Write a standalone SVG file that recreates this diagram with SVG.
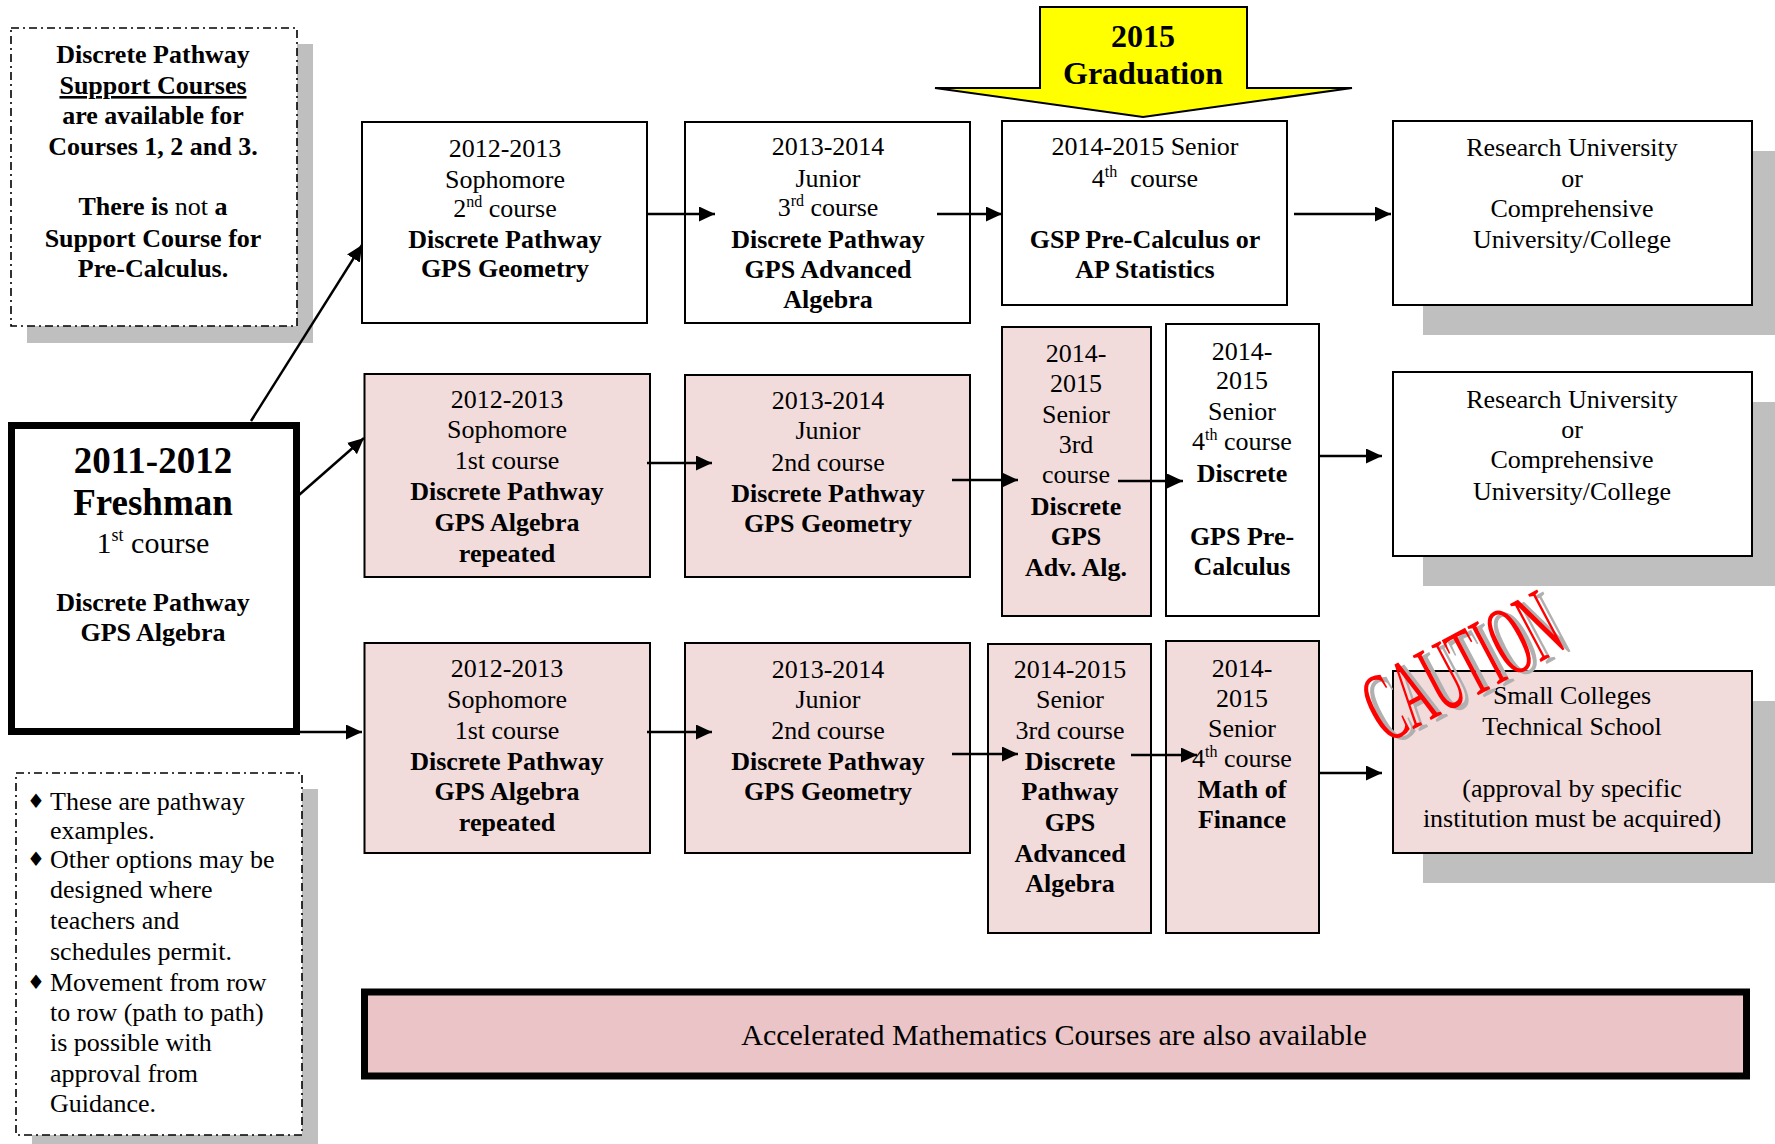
<svg xmlns="http://www.w3.org/2000/svg" width="1775" height="1144" viewBox="0 0 1775 1144">
<style>
.t{font-family:"Liberation Serif","Times New Roman",serif;font-size:26px;text-anchor:middle;fill:#000}
.l{text-anchor:start}
.b{font-weight:bold}
.box{fill:#fff;stroke:#000;stroke-width:2}
.pink{fill:#f2dcdb;stroke:#000;stroke-width:2}
.sh{fill:#bfbfbf}
.dd{fill:#fff;stroke:#000;stroke-width:1.6;stroke-dasharray:8 4 2 4}
.conn line{stroke:#000;stroke-width:2.5;marker-end:url(#ah)}
.sup{font-size:16px}
.big{font-size:37px}
.grad{font-size:32px}
.dia{font-family:"DejaVu Sans",sans-serif;font-size:20px}
.cau{font-family:"Liberation Serif","Times New Roman",serif;font-size:100px}
</style>
<defs>
<marker id="ah" markerUnits="userSpaceOnUse" markerWidth="16" markerHeight="15" refX="16" refY="7.5" orient="auto"><path d="M0,0 L16,7.5 L0,15 z" fill="#000"/></marker>
</defs>
<rect width="1775" height="1144" fill="#fff"/>

<g id="support-note">
<rect class="sh" x="27" y="44" width="286" height="299"/>
<rect class="dd" x="11" y="28" width="286" height="298"/>
<text class="t b" x="153" y="63">Discrete Pathway</text>
<text class="t b" x="153" y="94" text-decoration="underline">Support Courses</text>
<text class="t b" x="153" y="124">are available for</text>
<text class="t b" x="153" y="155">Courses 1, 2 and 3.</text>
<text class="t b" x="153" y="215">There is <tspan font-weight="normal">not</tspan> a</text>
<text class="t b" x="153" y="247">Support Course for</text>
<text class="t b" x="153" y="277">Pre-Calculus.</text>
</g>

<g id="graduation">
<polygon points="1040,7 1247,7 1247,88 1352,88 1143,117 935,88 1040,88" fill="#ffff00" stroke="#000" stroke-width="2"/>
<text class="t b grad" x="1143" y="47">2015</text>
<text class="t b grad" x="1143" y="84">Graduation</text>
</g>

<g id="freshman">
<rect x="11.5" y="425.5" width="285" height="306" fill="#fff" stroke="#000" stroke-width="7"/>
<text class="t b big" x="153" y="473">2011-2012</text>
<text class="t b big" x="153" y="515">Freshman</text>
<text class="t" x="153" y="553" style="font-size:30px">1<tspan dy="-12" style="font-size:18px">st</tspan><tspan dy="12"> course</tspan></text>
<text class="t b" x="153" y="611">Discrete Pathway</text>
<text class="t b" x="153" y="641">GPS Algebra</text>
</g>

<g id="r1-soph">
<rect class="box" x="362" y="122" width="285" height="201"/>
<text class="t" x="505" y="157">2012-2013</text>
<text class="t" x="505" y="188">Sophomore</text>
<text class="t" x="505" y="217">2<tspan class="sup" dy="-10">nd</tspan><tspan dy="10"> course</tspan></text>
<text class="t b" x="505" y="248">Discrete Pathway</text>
<text class="t b" x="505" y="277">GPS Geometry</text>
</g>

<g id="r1-junior">
<rect class="box" x="685" y="122" width="285" height="201"/>
<text class="t" x="828" y="155">2013-2014</text>
<text class="t" x="828" y="187">Junior</text>
<text class="t" x="828" y="216">3<tspan class="sup" dy="-10">rd</tspan><tspan dy="10"> course</tspan></text>
<text class="t b" x="828" y="248">Discrete Pathway</text>
<text class="t b" x="828" y="278">GPS Advanced</text>
<text class="t b" x="828" y="308">Algebra</text>
</g>

<g id="r1-senior">
<rect class="box" x="1002" y="121" width="285" height="184"/>
<text class="t" x="1145" y="155">2014-2015 Senior</text>
<text class="t" x="1145" y="187" style="white-space:pre">4<tspan class="sup" dy="-10">th</tspan><tspan dy="10">  course</tspan></text>
<text class="t b" x="1145" y="248">GSP Pre-Calculus or</text>
<text class="t b" x="1145" y="278">AP Statistics</text>
</g>

<g id="r1-univ">
<rect class="sh" x="1423" y="151" width="359" height="184"/>
<rect class="box" x="1393" y="121" width="359" height="184"/>
<text class="t" x="1572" y="156">Research University</text>
<text class="t" x="1572" y="187">or</text>
<text class="t" x="1572" y="217">Comprehensive</text>
<text class="t" x="1572" y="248">University/College</text>
</g>

<g id="r2-soph">
<rect class="pink" x="364.5" y="374" width="285.5" height="203"/>
<text class="t" x="507" y="408">2012-2013</text>
<text class="t" x="507" y="438">Sophomore</text>
<text class="t" x="507" y="469">1st course</text>
<text class="t b" x="507" y="500">Discrete Pathway</text>
<text class="t b" x="507" y="531">GPS Algebra</text>
<text class="t b" x="507" y="562">repeated</text>
</g>

<g id="r2-junior">
<rect class="pink" x="685" y="375" width="285" height="202"/>
<text class="t" x="828" y="409">2013-2014</text>
<text class="t" x="828" y="439">Junior</text>
<text class="t" x="828" y="471">2nd course</text>
<text class="t b" x="828" y="502">Discrete Pathway</text>
<text class="t b" x="828" y="532">GPS Geometry</text>
</g>

<g id="r2-senior3">
<rect class="pink" x="1002" y="327" width="149" height="289"/>
<text class="t" x="1076" y="362">2014-</text>
<text class="t" x="1076" y="392">2015</text>
<text class="t" x="1076" y="423">Senior</text>
<text class="t" x="1076" y="453">3rd</text>
<text class="t" x="1076" y="483">course</text>
<text class="t b" x="1076" y="515">Discrete</text>
<text class="t b" x="1076" y="545">GPS</text>
<text class="t b" x="1076" y="576">Adv. Alg.</text>
</g>

<g id="r2-senior4">
<rect class="box" x="1166" y="324" width="153" height="292"/>
<text class="t" x="1242" y="360">2014-</text>
<text class="t" x="1242" y="389">2015</text>
<text class="t" x="1242" y="420">Senior</text>
<text class="t" x="1242" y="450">4<tspan class="sup" dy="-10">th</tspan><tspan dy="10"> course</tspan></text>
<text class="t b" x="1242" y="482">Discrete</text>
<text class="t b" x="1242" y="545">GPS Pre-</text>
<text class="t b" x="1242" y="575">Calculus</text>
</g>

<g id="r2-univ">
<rect class="sh" x="1423" y="402" width="359" height="184"/>
<rect class="box" x="1393" y="372" width="359" height="184"/>
<text class="t" x="1572" y="408">Research University</text>
<text class="t" x="1572" y="438">or</text>
<text class="t" x="1572" y="468">Comprehensive</text>
<text class="t" x="1572" y="500">University/College</text>
</g>

<g id="r3-soph">
<rect class="pink" x="364.5" y="643" width="285.5" height="210"/>
<text class="t" x="507" y="677">2012-2013</text>
<text class="t" x="507" y="708">Sophomore</text>
<text class="t" x="507" y="739">1st course</text>
<text class="t b" x="507" y="770">Discrete Pathway</text>
<text class="t b" x="507" y="800">GPS Algebra</text>
<text class="t b" x="507" y="831">repeated</text>
</g>

<g id="r3-junior">
<rect class="pink" x="685" y="643" width="285" height="210"/>
<text class="t" x="828" y="678">2013-2014</text>
<text class="t" x="828" y="708">Junior</text>
<text class="t" x="828" y="739">2nd course</text>
<text class="t b" x="828" y="770">Discrete Pathway</text>
<text class="t b" x="828" y="800">GPS Geometry</text>
</g>

<g id="r3-senior3">
<rect class="pink" x="988" y="644" width="163" height="289"/>
<text class="t" x="1070" y="678">2014-2015</text>
<text class="t" x="1070" y="708">Senior</text>
<text class="t" x="1070" y="739">3rd course</text>
<text class="t b" x="1070" y="770">Discrete</text>
<text class="t b" x="1070" y="800">Pathway</text>
<text class="t b" x="1070" y="831">GPS</text>
<text class="t b" x="1070" y="862">Advanced</text>
<text class="t b" x="1070" y="892">Algebra</text>
</g>

<g id="r3-senior4">
<rect class="pink" x="1166" y="641" width="153" height="292"/>
<text class="t" x="1242" y="677">2014-</text>
<text class="t" x="1242" y="707">2015</text>
<text class="t" x="1242" y="737">Senior</text>
<text class="t" x="1242" y="767">4<tspan class="sup" dy="-10">th</tspan><tspan dy="10"> course</tspan></text>
<text class="t b" x="1242" y="798">Math of</text>
<text class="t b" x="1242" y="828">Finance</text>
</g>

<g id="r3-small">
<rect class="sh" x="1423" y="701" width="359" height="182"/>
<rect class="pink" x="1393" y="671" width="359" height="182"/>
<text class="t" x="1572" y="704">Small Colleges</text>
<text class="t" x="1572" y="735">Technical School</text>
<text class="t" x="1572" y="797">(approval by specific</text>
<text class="t" x="1572" y="827">institution must be acquired)</text>
</g>

<g id="caution">
<text class="cau" x="0" y="0" transform="translate(1392,746) rotate(-28) scale(0.46,1)" fill="#b0b0b0">CAUTION</text>
<text class="cau" x="0" y="0" transform="translate(1386,744) rotate(-28) scale(0.46,1)" fill="#ff0000">CAUTION</text>
</g>

<g id="notes">
<rect class="sh" x="32" y="789" width="286" height="360"/>
<rect class="dd" x="16" y="773" width="286" height="362"/>
<text class="t dia" x="36" y="808">♦</text>
<text class="t dia" x="36" y="866">♦</text>
<text class="t dia" x="36" y="989">♦</text>
<text class="t l" x="50" y="810">These are pathway</text>
<text class="t l" x="50" y="839">examples.</text>
<text class="t l" x="50" y="868">Other options may be</text>
<text class="t l" x="50" y="898">designed where</text>
<text class="t l" x="50" y="929">teachers and</text>
<text class="t l" x="50" y="960">schedules permit.</text>
<text class="t l" x="50" y="991">Movement from row</text>
<text class="t l" x="50" y="1021">to row (path to path)</text>
<text class="t l" x="50" y="1051">is possible with</text>
<text class="t l" x="50" y="1082">approval from</text>
<text class="t l" x="50" y="1112">Guidance.</text>
</g>

<g id="accelerated">
<rect x="364.5" y="992" width="1382" height="84" fill="#eac4c6" stroke="#000" stroke-width="7"/>
<text class="t" x="1054" y="1045" style="font-size:30px">Accelerated Mathematics Courses are also available</text>
</g>

<g class="conn" id="connectors">
<line x1="251" y1="421" x2="362" y2="245"/>
<line x1="299" y1="495" x2="364" y2="438"/>
<line x1="300" y1="732" x2="362" y2="732"/>
<line x1="647" y1="214" x2="715" y2="214"/>
<line x1="937" y1="214" x2="1002" y2="214"/>
<line x1="1294" y1="214" x2="1391" y2="214"/>
<line x1="647" y1="463" x2="712" y2="463"/>
<line x1="952" y1="480" x2="1018" y2="480"/>
<line x1="1118" y1="481" x2="1183" y2="481"/>
<line x1="1320" y1="456" x2="1382" y2="456"/>
<line x1="647" y1="732" x2="712" y2="732"/>
<line x1="952" y1="754" x2="1018" y2="754"/>
<line x1="1131" y1="755" x2="1197" y2="755"/>
<line x1="1320" y1="773" x2="1382" y2="773"/>
</g>
</svg>
